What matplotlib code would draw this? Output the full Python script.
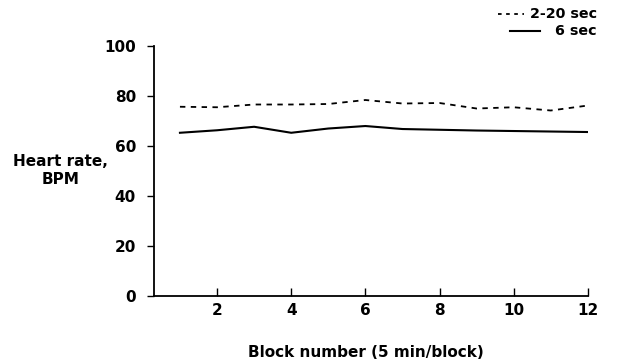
import matplotlib
matplotlib.use("Agg")
import matplotlib.pyplot as plt
from matplotlib.lines import Line2D

# data
blocks = [1, 2, 3, 4, 5, 6, 7, 8, 9, 10, 11, 12]
hr_2_20 = [75.7, 75.5, 76.6, 76.6, 76.8, 78.4, 77.0, 77.2, 75.0, 75.5, 74.2, 76.2]
hr_6 = [65.3, 66.3, 67.7, 65.3, 67.0, 68.0, 66.8, 66.5, 66.2, 66.0, 65.8, 65.6]
xticks = [2, 4, 6, 8, 10, 12]
yticks = [0, 20, 40, 60, 80, 100]

plt.rcParams['font.family'] = ['DejaVu Sans']
plt.rcParams['font.weight'] = 'bold'

fig = plt.figure(figsize=(6.27, 3.62), dpi=100)
ax = fig.add_axes([0.2456, 0.182, 0.692, 0.691])

ax.plot(blocks, hr_2_20, color='black', lw=1.3, ls=(0, (3, 3)))
ax.plot(blocks, hr_6, color='black', lw=1.5)

ax.set_xlim(0.3, 12)
ax.set_ylim(0, 100)
ax.set_xticks(xticks)
ax.set_yticks(yticks)
ax.spines['top'].set_visible(False)
ax.spines['right'].set_visible(False)
ax.spines['left'].set_linewidth(1.3)
ax.spines['bottom'].set_linewidth(1.3)
ax.tick_params(axis='x', direction='in', length=6, width=1, labelsize=11, pad=5)
ax.tick_params(axis='y', direction='out', length=5, width=1, labelsize=11, pad=8)
for lbl in ax.get_xticklabels() + ax.get_yticklabels():
    lbl.set_fontweight('bold')

fig.text(0.097, 0.53, "Heart rate,\nBPM", ha='center', va='center',
         fontsize=11, fontweight='bold', linespacing=1.25)
fig.text(0.584, 0.025, "Block number (5 min/block)", ha='center', va='center',
         fontsize=11, fontweight='bold')

# legend drawn by hand in figure coords
fig.add_artist(Line2D([0.795, 0.836], [0.962, 0.962], color='black', lw=1.3,
                      ls=(0, (2, 2.5)), transform=fig.transFigure))
fig.text(0.952, 0.962, "2-20 sec", ha='right', va='center', fontsize=10.3, fontweight='bold')
fig.add_artist(Line2D([0.813, 0.862], [0.913, 0.913], color='black', lw=1.5,
                      transform=fig.transFigure))
fig.text(0.952, 0.913, "6 sec", ha='right', va='center', fontsize=10.3, fontweight='bold')

fig.savefig("out.png", dpi=100)
